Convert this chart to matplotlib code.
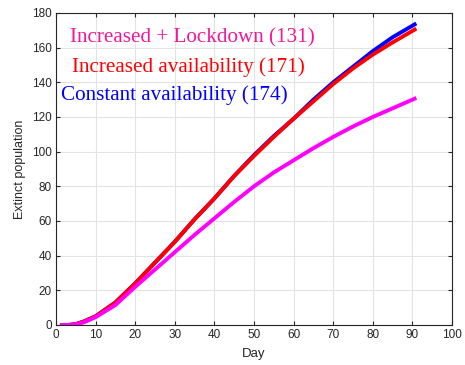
import numpy as np
import matplotlib.pyplot as plt

# values
days = [1, 3, 5, 7, 10, 15, 20, 25, 30, 35, 40, 45, 50, 55, 60, 65, 70, 75, 80, 85, 91]
constant = [0, 0, 0.5, 2, 5, 13, 24, 36, 48, 61, 73, 86, 98, 109, 119, 130, 140, 149, 158, 166, 174]
increased = [0, 0, 0.5, 2, 5, 13, 24, 36, 48, 61, 73, 86, 97.5, 108.5, 119, 129, 139, 148, 156, 163, 171]
lockdown = [0, 0, 0.3, 1.5, 4.5, 11.5, 22, 32, 42, 52, 61.5, 71, 80, 88, 95, 102, 108.5, 114.5, 120, 125, 131]

labels = ['Increased + Lockdown (131)', 'Increased availability (171)', 'Constant availability (174)']

plt.rcParams['font.family'] = ['Liberation Sans', 'DejaVu Sans']
axcol = '#262626'

fig = plt.figure(figsize=(4.65, 3.65), dpi=100)
ax = fig.add_axes([0.1204, 0.1096, 0.8516, 0.8548])

ax.plot(days, constant, color='#0000ff', lw=2.8, solid_capstyle='butt')
ax.plot(days, increased, color='#ff0000', lw=2.8, solid_capstyle='butt')
ax.plot(days, lockdown, color='#ff00ff', lw=2.8, solid_capstyle='butt')

ax.set_xlim(0, 100)
ax.set_ylim(0, 180)
ax.set_xticks(np.arange(0, 101, 10))
ax.set_yticks(np.arange(0, 181, 20))
ax.grid(True, color='#e3e3e3', lw=0.8)
ax.set_axisbelow(True)
ax.tick_params(direction='in', top=True, right=True, length=3, labelsize=8.5,
               colors=axcol, pad=3)
for s in ax.spines.values():
    s.set_color(axcol)
    s.set_linewidth(0.8)

ax.set_xlabel('Day', fontsize=9.5, color=axcol, labelpad=5)
ax.set_ylabel('Extinct population', fontsize=9, color=axcol, labelpad=4)

tf = ['Liberation Serif', 'DejaVu Serif']
ax.text(3.5, 165.6, labels[0], color='#f0199a', fontsize=15.2, family=tf, va='center')
ax.text(4.0, 148.8, labels[1], color='#ff0000', fontsize=15.2, family=tf, va='center')
ax.text(1.3, 132.7, labels[2], color='#0000ff', fontsize=15.2, family=tf, va='center')

fig.savefig('out.png', dpi=100)
